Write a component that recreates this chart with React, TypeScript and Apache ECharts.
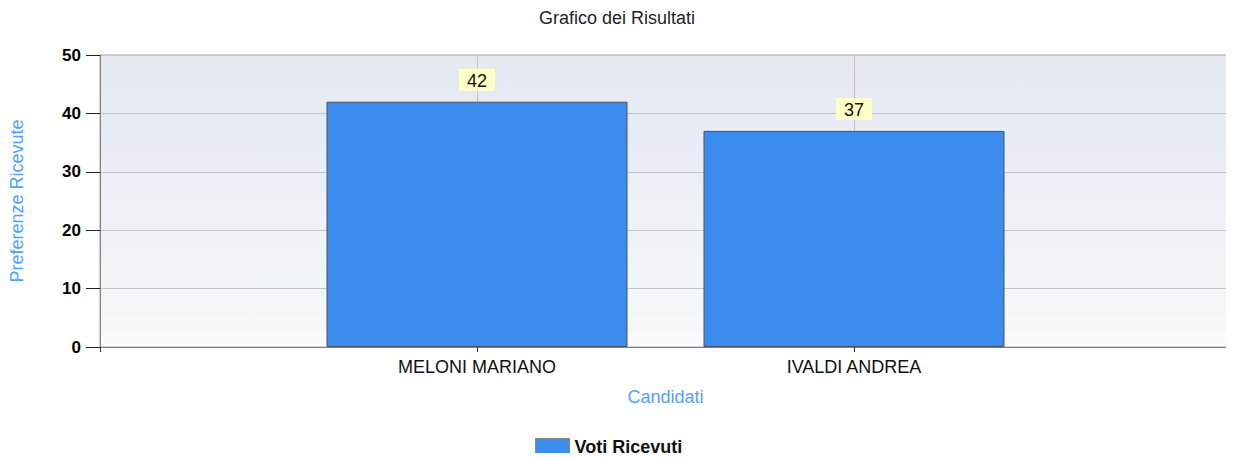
import React, { useEffect, useRef } from "react";
import * as echarts from "echarts";

const categories = ["", "MELONI MARIANO", "IVALDI ANDREA", ""];
const votes: (number | null)[] = [null, 42, 37, null];
const yTicks = { min: 0, max: 50, interval: 10 };
const titleText = "Grafico dei Risultati";
const seriesName = "Voti Ricevuti";
const xName = "Candidati";
const yName = "Preferenze Ricevute";

export default function App() {
  const ref = useRef<HTMLDivElement>(null);
  useEffect(() => {
    if (!ref.current) return;
    const chart = echarts.init(ref.current, null, { renderer: "svg" });
    chart.setOption({
      animation: false,
      backgroundColor: "#ffffff",
      textStyle: { fontFamily: "Liberation Sans, Arial, sans-serif" },
      title: {
        text: titleText,
        left: "center",
        top: 4,
        textStyle: { fontSize: 18, fontWeight: "normal", color: "#222" },
      },
      legend: {
        top: 438,
        left: 535,
        padding: 0,
        itemWidth: 34,
        itemHeight: 17,
        itemGap: 8,
        icon: "rect",
        textStyle: { fontSize: 18, fontWeight: "bold", color: "#111" },
        itemStyle: { borderColor: "#8a8a8a", borderWidth: 1 },
        data: [seriesName],
      },
      grid: {
        left: 100,
        right: 3,
        top: 55,
        bottom: 114,
        show: true,
        borderColor: "#a8a8a8",
        borderWidth: 1,
        backgroundColor: new echarts.graphic.LinearGradient(0, 0, 0, 1, [
          { offset: 0, color: "#e4e9f0" },
          { offset: 0.3, color: "#e8ecf6" },
          { offset: 0.55, color: "#f0f1f6" },
          { offset: 0.75, color: "#f1f6f6" },
          { offset: 0.95, color: "#f7f7f7" },
          { offset: 0.955, color: "#fbfbfd" },
          { offset: 1, color: "#fbfbfd" },
        ]),
      },
      xAxis: {
        type: "category",
        data: categories,
        boundaryGap: false,
        name: xName,
        nameLocation: "middle",
        nameGap: 41,
        nameTextStyle: { color: "#4da3ff", fontSize: 18 },
        axisLine: { lineStyle: { color: "#808080", width: 1 } },
        axisTick: { show: true, length: 5, lineStyle: { color: "#333" } },
        axisLabel: { fontSize: 18, color: "#111", margin: 11 },
        splitLine: { show: true, lineStyle: { color: "#c4c4c4", width: 1 } },
      },
      yAxis: {
        type: "value",
        min: yTicks.min,
        max: yTicks.max,
        interval: yTicks.interval,
        name: yName,
        nameLocation: "middle",
        nameRotate: 90,
        nameGap: 74,
        nameTextStyle: { color: "#4da3ff", fontSize: 18 },
        axisLine: { show: true, lineStyle: { color: "#808080", width: 1 } },
        axisTick: { show: true, length: 14, lineStyle: { color: "#222" } },
        axisLabel: { fontSize: 17, color: "#000", margin: 19, fontWeight: "bold" },
        splitLine: { show: true, lineStyle: { color: "#c4c4c4", width: 1 } },
      },
      series: [
        {
          name: seriesName,
          type: "bar",
          data: votes,
          barWidth: 301,
          itemStyle: { color: "#3c8ced", borderColor: "#4b5060", borderWidth: 1 },
          label: {
            show: true,
            position: "top",
            distance: 11,
            fontSize: 18,
            color: "#111",
            backgroundColor: "#ffffc6",
            padding: [3, 8, 1, 8],
          },
        },
      ],
    });
    return () => chart.dispose();
  }, []);
  return <div ref={ref} style={{ width: 1234, height: 461, margin: -8 }} />;
}
